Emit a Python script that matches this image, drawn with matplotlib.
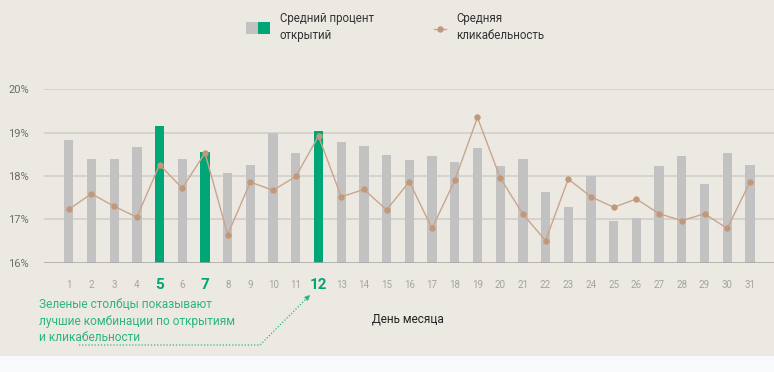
import numpy as np
import matplotlib
matplotlib.use("Agg")
import matplotlib.pyplot as plt
from matplotlib.patches import Rectangle

plt.rcParams['font.family'] = ['Roboto', 'DejaVu Sans']

# Data
days = list(range(1, 32))
open_rate = [18.82, 18.39, 18.39, 18.66, 19.16, 18.39, 18.56, 18.06, 18.26, 18.99,
             18.53, 19.03, 18.79, 18.69, 18.49, 18.36, 18.46, 18.33, 18.65, 18.23,
             18.40, 17.63, 17.29, 17.99, 16.96, 17.04, 18.24, 18.45, 17.82, 18.53,
             18.26]
click_rate = [17.23, 17.59, 17.30, 17.05, 18.26, 17.72, 18.53, 16.65, 17.86, 17.67,
              17.99, 18.92, 17.52, 17.69, 17.22, 17.87, 16.79, 17.90, 19.35, 17.96,
              17.12, 16.51, 17.93, 17.52, 17.28, 17.47, 17.13, 16.97, 17.13, 16.79,
              17.86]
best_days = [5, 7, 12]
y_ticks = [16, 17, 18, 19, 20]

bg = '#ECE9E3'
gray_bar = '#C2C2C2'
green = '#00A676'
note_green = '#2DB57C'
tan = '#C9A58C'
tan_dot = '#C29878'

W, H = 774, 372
fig = plt.figure(figsize=(W / 100, H / 100), dpi=100, facecolor=bg)

# white strip at the bottom
fig.patches.append(Rectangle((0, 0), 1, 16 / H, transform=fig.transFigure,
                             facecolor='#F8F9FB', edgecolor='none', zorder=0))

ax = fig.add_axes([44 / W, 1 - 262.7 / H, (774 - 44) / W, (262.7 - 89.3) / H])
ax.set_facecolor(bg)

colors = [green if d in best_days else gray_bar for d in days]
ax.bar(days, open_rate, width=0.41, color=colors, zorder=2)
ax.plot(days, click_rate, color=tan, lw=1.0, marker='o', ms=3.6,
        mfc=tan_dot, mec=tan_dot, zorder=3)

ax.set_ylim(16, 20)
ax.set_xlim(-0.09, 32.06)
ax.set_yticks(y_ticks)
ax.set_yticklabels([f'{t}%' for t in y_ticks], color='#6E6E6E', fontsize=8)
for t in y_ticks[1:]:
    ax.axhline(t, color='#D2CEC8', lw=1.2, zorder=1)
ax.axhline(16, color='#A8A5A0', lw=1.8, zorder=4)
for s in ax.spines.values():
    s.set_visible(False)
ax.tick_params(axis='y', length=0, pad=11)
ax.tick_params(axis='x', length=0, pad=16)

ax.set_xticks(days)
ax.set_xticklabels([str(d) for d in days])
for d, lab in zip(days, ax.get_xticklabels()):
    lab.set_va('center')
    if d in best_days:
        lab.set_color(green)
        lab.set_fontsize(11)
        lab.set_fontweight('bold')
    else:
        lab.set_color('#A3A3A3')
        lab.set_fontsize(7)

# legend at the top
fig.patches.append(Rectangle((246 / W, 1 - 34 / H), 12 / W, 12 / H, transform=fig.transFigure,
                             facecolor=gray_bar, edgecolor='none'))
fig.patches.append(Rectangle((258 / W, 1 - 34 / H), 12 / W, 12 / H, transform=fig.transFigure,
                             facecolor=green, edgecolor='none'))
fig.text(280 / W, 1 - 27 / H, 'Средний процент\nоткрытий', fontsize=8.3, color='#333333',
         va='center', ha='left', linespacing=1.4)
fig.lines.append(plt.Line2D([434 / W, 446 / W], [1 - 29 / H, 1 - 29 / H], transform=fig.transFigure,
                            color=tan, lw=1.0))
fig.lines.append(plt.Line2D([440 / W], [1 - 29 / H], transform=fig.transFigure,
                            color=tan_dot, marker='o', ms=3.6, lw=0))
fig.text(456 / W, 1 - 27 / H, 'Средняя\nкликабельность', fontsize=8.3, color='#333333',
         va='center', ha='left', linespacing=1.4)

# annotation
fig.text(39 / W, 1 - 321 / H, 'Зеленые столбцы показывают\nлучшие комбинации по открытиям\nи кликабельности',
         fontsize=8.6, color=note_green, va='center', ha='left', linespacing=1.35)
fig.lines.append(plt.Line2D([79 / W, 260 / W, 307 / W], [1 - 345 / H, 1 - 345 / H, 1 - 298 / H],
                            transform=fig.transFigure, color=note_green, lw=0.9, ls=(0, (1, 1.5))))
ax.annotate('', xy=(312 / W, 1 - 293 / H), xytext=(306 / W, 1 - 299 / H),
            xycoords='figure fraction', textcoords='figure fraction',
            arrowprops=dict(arrowstyle='-|>', color=note_green, lw=0.9,
                            mutation_scale=7))

fig.text(408 / W, 1 - 319 / H, 'День месяца', fontsize=8.5, color='#222222',
         va='center', ha='center')

fig.savefig('out.png', dpi=100, facecolor=bg)
